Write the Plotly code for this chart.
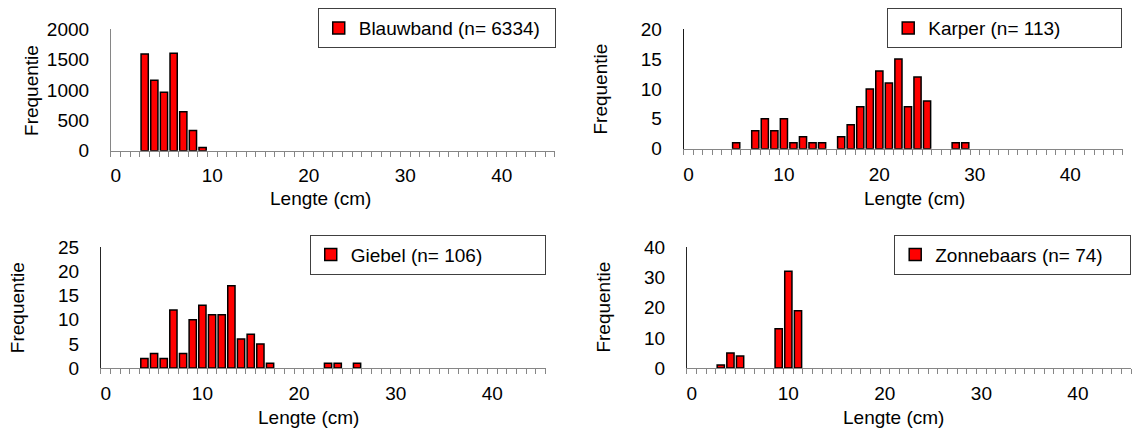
import plotly.graph_objects as go

# ---- data (length class in cm -> frequency) ----
blauwband_len = [3, 4, 5, 6, 7, 8, 9]
blauwband_freq = [1590, 1160, 960, 1600, 640, 330, 54]

karper_len = [5, 7, 8, 9, 10, 11, 12, 13, 14, 16, 17, 18, 19, 20, 21, 22, 23, 24, 25, 28, 29]
karper_freq = [1, 3, 5, 3, 5, 1, 2, 1, 1, 2, 4, 7, 10, 13, 11, 15, 7, 12, 8, 1, 1]

giebel_len = [4, 5, 6, 7, 8, 9, 10, 11, 12, 13, 14, 15, 16, 17, 23, 24, 26]
giebel_freq = [2, 3, 2, 12, 3, 10, 13, 11, 11, 17, 6, 7, 5, 1, 1, 1, 1]

zonnebaars_len = [3, 4, 5, 9, 10, 11]
zonnebaars_freq = [1, 5, 4, 13, 32, 19]

series_names = ["Blauwband (n= 6334)", "Karper (n= 113)", "Giebel (n= 106)", "Zonnebaars (n= 74)"]
y_ranges = [(0, 2000, 500), (0, 20, 5), (0, 25, 5), (0, 40, 10)]
x_ticks = [0, 10, 20, 30, 40]
n_classes = 46  # length classes 0..45

W, H = 1132, 441
def px(x):
    return x / W
def py(y):
    return 1 - y / H

# panel geometry (pixels): x0, x1, ytop, ybottom
panels = [
    (110, 554.3, 20, 147.7),
    (683.3, 1122.7, 20, 145.7),
    (100, 545, 249, 376),
    (686.6, 1131, 249, 376),
]
legend_boxes = [(317, -2, 191), (887, -2, 188), (309, 236, 189), (894, 236, 190)]
yline_colors = ["#868686", "#1a1a1a", "#262626", "#262626"]
ytitle_pos = [(30, 84), (600, 83), (16, 312), (603, 312)]
xtitle_pos = [(320, 198), (914, 198), (308, 428), (893, 428)]

data = [
    (blauwband_len, blauwband_freq),
    (karper_len, karper_freq),
    (giebel_len, giebel_freq),
    (zonnebaars_len, zonnebaars_freq),
]

FONT = "Liberation Sans, Arial, sans-serif"
FS = 19
fig = go.Figure()
layout = dict(
    width=W, height=H,
    margin=dict(l=0, r=0, t=0, b=0),
    paper_bgcolor="white", plot_bgcolor="white",
    font=dict(family=FONT, size=FS, color="black"),
    bargap=0.25,
    showlegend=True,
    annotations=[],
)

for i, ((xs, ys), name) in enumerate(zip(data, series_names)):
    k = "" if i == 0 else str(i + 1)
    leg = "legend" if i == 0 else f"legend{i + 1}"
    fig.add_trace(go.Bar(
        x=xs, y=ys, name=name,
        xaxis="x" + k, yaxis="y" + k, legend=leg,
        marker=dict(color="#ff0000", line=dict(color="black", width=1.5)),
        showlegend=True,
    ))
    x0, x1, yt, yb = panels[i]
    y0, y1, dt = y_ranges[i]
    layout["xaxis" + k] = dict(
        domain=[px(x0), px(x1)], anchor="y" + k,
        range=[-0.5, n_classes - 0.5],
        tickmode="array", tickvals=x_ticks, ticktext=[str(v) for v in x_ticks],
        ticks="", ticklabelstandoff=8,
        showline=True, linecolor="#868686", linewidth=1,
        showgrid=False, zeroline=False,
        tickfont=dict(size=FS, color="black"),
        minor=dict(tickmode="array", tickvals=[c - 0.5 for c in range(n_classes + 1)],
                   ticks="outside", ticklen=5, tickwidth=1, tickcolor="#868686", showgrid=False),
    )
    layout["yaxis" + k] = dict(
        domain=[py(yb), py(yt)], anchor="x" + k,
        range=[y0, y1], tickmode="linear", tick0=0, dtick=dt,
        ticks="", ticklabelstandoff=17,
        showline=True, linecolor=yline_colors[i], linewidth=1,
        showgrid=False, zeroline=False,
        tickfont=dict(size=FS, color="black"),
    )
    lx, ly, ew = legend_boxes[i]
    layout[leg] = dict(
        x=px(lx), y=py(ly), xanchor="left", yanchor="top",
        orientation="h",
        bgcolor="white", bordercolor="#404040", borderwidth=1,
        font=dict(size=FS, color="black", family=FONT),
        entrywidth=ew, entrywidthmode="pixels",
    )
    tx, ty = ytitle_pos[i]
    layout["annotations"].append(dict(
        text="Frequentie", x=px(tx), y=py(ty), xref="paper", yref="paper",
        showarrow=False, textangle=-90, font=dict(size=FS, color="black"),
        xanchor="center", yanchor="middle",
    ))
    tx, ty = xtitle_pos[i]
    layout["annotations"].append(dict(
        text="Lengte (cm)", x=px(tx), y=py(ty), xref="paper", yref="paper",
        showarrow=False, font=dict(size=FS, color="black"),
        xanchor="center", yanchor="middle",
    ))

fig.update_layout(**layout)
fig.write_html("out.html")
